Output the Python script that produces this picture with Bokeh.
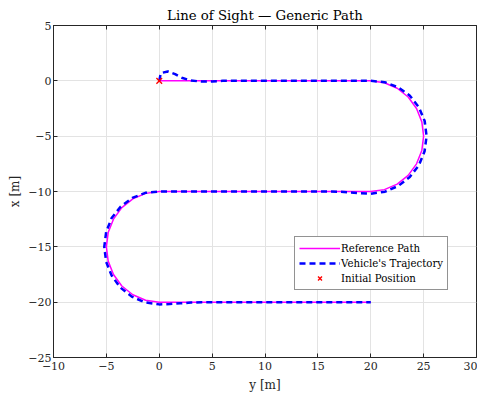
from bokeh.plotting import figure
from bokeh.models import Range1d, LinearAxis, Legend, LegendItem, FixedTicker, CustomJSTickFormatter
from bokeh.embed import file_html
from bokeh.resources import INLINE

# Reference path (horizontal = y [m], vertical = x [m])
ref_y = [0, 20, 21.29, 22.5, 23.54, 24.33, 24.83, 25.0, 24.83, 24.33, 23.54, 22.5, 21.29, 20,
         0, -1.29, -2.5, -3.54, -4.33, -4.83, -5.0, -4.83, -4.33, -3.54, -2.5, -1.29, 0, 20]
ref_x = [0, 0, -0.17, -0.67, -1.46, -2.5, -3.71, -5.0, -6.29, -7.5, -8.54, -9.33, -9.83, -10,
         -10, -10.17, -10.67, -11.46, -12.5, -13.71, -15.0, -16.29, -17.5, -18.54, -19.33, -19.83, -20, -20]

# Vehicle trajectory
veh_y = [0, 0.15, 0.8, 1.5, 2.2, 3.0, 4.0, 5.0, 6.0, 10, 15, 20,
         21.31, 22.56, 23.68, 24.55, 25.1, 25.28, 25.09, 24.55, 23.69, 22.6, 21.35, 20.0,
         19.0, 18.0, 17.0, 16.0, 10, 0,
         -1.31, -2.55, -3.64, -4.5, -5.02, -5.2, -5.02, -4.5, -3.68, -2.6, -1.35, 0.0,
         1.0, 2.0, 3.0, 4.0, 10, 20]
veh_x = [0, 0.7, 0.85, 0.6, 0.25, 0.03, -0.07, -0.05, 0.0, 0, 0, 0,
         -0.12, -0.57, -1.32, -2.38, -3.63, -5.0, -6.36, -7.63, -8.69, -9.5, -10.02, -10.2,
         -10.15, -10.07, -10.02, -10.0, -10, -10,
         -10.12, -10.58, -11.36, -12.4, -13.65, -15.0, -16.35, -17.6, -18.68, -19.5, -20.02, -20.2,
         -20.17, -20.1, -20.04, -20.0, -20, -20]

init_y = [0]
init_x = [0]

x_ticks = [-10, -5, 0, 5, 10, 15, 20, 25, 30]
y_ticks = [-25, -20, -15, -10, -5, 0, 5]

FONT = "DejaVu Serif"
AX = "#262626"

p = figure(frame_width=423, frame_height=332, output_backend="svg", toolbar_location=None,
           x_range=Range1d(-10, 30), y_range=Range1d(-25, 5),
           min_border_left=53, min_border_right=1, min_border_top=25, min_border_bottom=42,
           title="Line of Sight — Generic Path")
p.title.align = "center"
p.title.text_font = FONT
p.title.text_font_size = "13.3px"
p.title.text_font_style = "normal"
p.title.text_color = "black"
p.title.standoff = 6

p.background_fill_color = "white"
p.border_fill_color = "white"
p.outline_line_color = AX
p.outline_line_width = 1

for ax, ticks in ((p.xaxis[0], x_ticks), (p.yaxis[0], y_ticks)):
    ax.ticker = FixedTicker(ticks=ticks)
    ax.major_tick_in = 4
    ax.major_tick_out = 0
    ax.minor_tick_line_color = None
    ax.axis_line_color = AX
    ax.major_tick_line_color = AX
    ax.major_label_text_font = FONT
    ax.major_label_text_font_size = "11px"
    ax.major_label_text_color = AX
    ax.axis_label_text_font = FONT
    ax.axis_label_text_font_size = "12px"
    ax.axis_label_text_font_style = "normal"
    ax.axis_label_text_color = AX

p.xaxis.axis_label = "y [m]"
p.yaxis.axis_label = "x [m]"
p.xaxis.major_label_standoff = 4
p.yaxis.major_label_standoff = 2
p.yaxis.axis_label_standoff = 3

top = LinearAxis(ticker=FixedTicker(ticks=x_ticks), major_tick_in=4, major_tick_out=0,
                 minor_tick_line_color=None, axis_line_color=AX, major_tick_line_color=AX,
                 formatter=CustomJSTickFormatter(code="return ''"), major_label_standoff=0)
p.add_layout(top, "above")

p.xgrid.ticker = FixedTicker(ticks=x_ticks)
p.ygrid.ticker = FixedTicker(ticks=y_ticks)
p.grid.grid_line_color = "#e3e3e3"
p.grid.grid_line_width = 1

r1 = p.line(ref_y, ref_x, line_color="#ff00ff", line_width=1.5)
r2 = p.line(veh_y, veh_x, line_color="#0000ff", line_width=2.5, line_dash="6 4")
r3 = p.scatter(init_y, init_x, marker="x", size=8, line_color="#ff0000", line_width=1.4)

legend = Legend(items=[LegendItem(label="Reference Path", renderers=[r1]),
                       LegendItem(label="Vehicle's Trajectory", renderers=[r2]),
                       LegendItem(label="Initial Position", renderers=[r3])],
                location=(241, 67))
legend.label_text_font = FONT
legend.label_text_font_size = "10.2px"
legend.label_text_color = "black"
legend.border_line_color = AX
legend.border_line_width = 1
legend.background_fill_alpha = 1
legend.glyph_width = 41
legend.glyph_height = 14
legend.label_height = 14
legend.label_standoff = 1
legend.spacing = 1
legend.padding = 4
legend.margin = 0
p.add_layout(legend, "center")

open("out.html", "w").write(file_html(p, INLINE))
